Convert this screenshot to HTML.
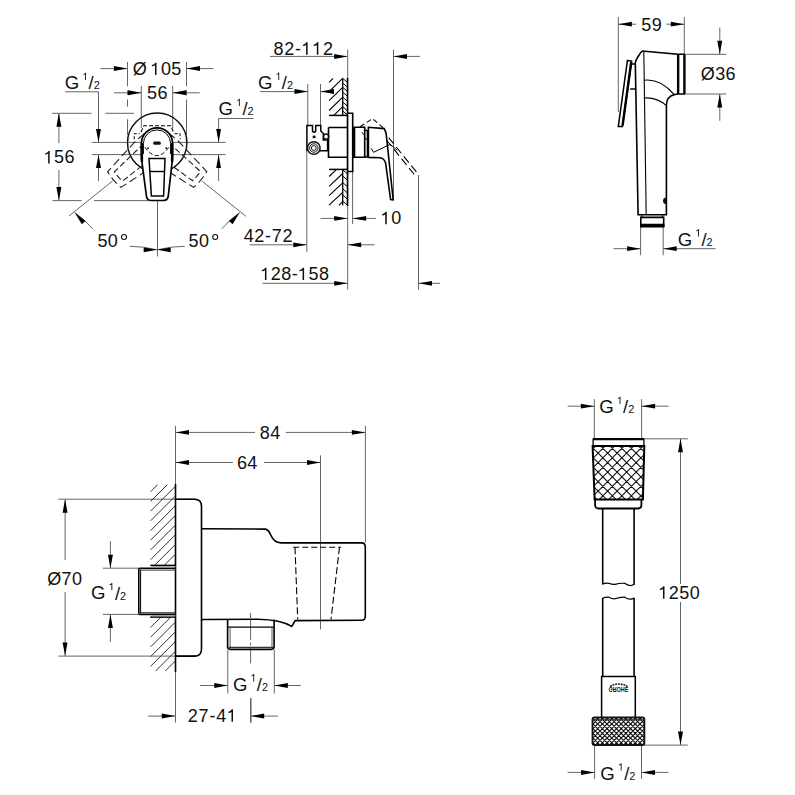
<!DOCTYPE html>
<html><head><meta charset="utf-8"><style>
html,body{margin:0;padding:0;background:#fff;}
svg{display:block;}
text{font-family:"Liberation Sans",sans-serif;fill:#111;}
</style></head><body>
<svg width="795" height="795" viewBox="0 0 795 795">
<rect width="795" height="795" fill="#fff"/>
<line x1="100.4" y1="68.6" x2="127.4" y2="68.6" stroke="#666666" stroke-width="1.0" />
<path d="M127.4,68.6 L113.9,71.0 L113.9,66.1 Z" fill="#000"/>
<line x1="186.5" y1="68.6" x2="213.6" y2="68.6" stroke="#666666" stroke-width="1.0" />
<path d="M186.5,68.6 L200.0,66.1 L200.0,71.0 Z" fill="#000"/>
<text x="132.79" y="75.40" font-size="18">Ø</text>
<path class="g1" d="M156.52,75.10 L156.52,62.72 L155.21,62.72 Q154.72,64.57 151.93,65.11 L151.93,66.28 Q153.91,66.10 154.99,65.29 L154.99,75.10 Z" fill="#111"/>
<text x="160.90 171.31" y="75.10" font-size="18.0">05</text>
<line x1="127.5" y1="62.0" x2="127.5" y2="86.3" stroke="#666666" stroke-width="1.0" />
<line x1="127.5" y1="90.4" x2="127.5" y2="95.0" stroke="#666666" stroke-width="1.0" />
<line x1="127.5" y1="99.5" x2="127.5" y2="106.7" stroke="#666666" stroke-width="1.0" />
<line x1="127.5" y1="119.3" x2="127.5" y2="135.0" stroke="#666666" stroke-width="1.0" />
<line x1="186.5" y1="62.0" x2="186.5" y2="86.3" stroke="#666666" stroke-width="1.0" />
<line x1="186.5" y1="90.0" x2="186.5" y2="95.4" stroke="#666666" stroke-width="1.0" />
<line x1="186.5" y1="99.5" x2="186.5" y2="135.0" stroke="#666666" stroke-width="1.0" />
<line x1="114.0" y1="92.8" x2="141.5" y2="92.8" stroke="#666666" stroke-width="1.0" />
<path d="M141.5,92.8 L128.0,95.2 L128.0,90.3 Z" fill="#000"/>
<line x1="172.7" y1="92.8" x2="199.7" y2="92.8" stroke="#666666" stroke-width="1.0" />
<path d="M172.7,92.8 L186.2,90.3 L186.2,95.2 Z" fill="#000"/>
<text x="147.02 157.44" y="99.30" font-size="18.0">56</text>
<line x1="141.3" y1="86.0" x2="141.3" y2="128.0" stroke="#666666" stroke-width="1.0" />
<line x1="172.7" y1="86.0" x2="172.7" y2="128.0" stroke="#666666" stroke-width="1.0" />
<text x="64.77" y="89.10" font-size="18.6" text-anchor="start" >G</text>
<path class="g1" d="M86.00,80.00 L86.00,72.71 L85.23,72.71 Q84.94,73.80 83.30,74.12 L83.30,74.81 Q84.47,74.70 85.10,74.22 L85.10,80.00 Z" fill="#111"/>
<text x="88.60" y="89.30" font-size="18.5" text-anchor="start" >/</text>
<text x="93.70" y="89.30" font-size="10.9" text-anchor="start" >2</text>
<line x1="65.0" y1="91.8" x2="98.5" y2="91.8" stroke="#666666" stroke-width="1.0" />
<line x1="98.5" y1="91.8" x2="98.5" y2="142.4" stroke="#666666" stroke-width="1.0" />
<path d="M98.5,142.4 L96.0,128.9 L101.0,128.9 Z" fill="#000"/>
<line x1="98.5" y1="154.6" x2="98.5" y2="181.0" stroke="#666666" stroke-width="1.0" />
<path d="M98.5,154.6 L101.0,168.1 L96.0,168.1 Z" fill="#000"/>
<text x="218.57" y="115.10" font-size="18.6" text-anchor="start" >G</text>
<path class="g1" d="M239.80,106.00 L239.80,98.71 L239.03,98.71 Q238.74,99.80 237.10,100.12 L237.10,100.81 Q238.27,100.70 238.90,100.22 L238.90,106.00 Z" fill="#111"/>
<text x="242.40" y="115.30" font-size="18.5" text-anchor="start" >/</text>
<text x="247.50" y="115.30" font-size="10.9" text-anchor="start" >2</text>
<line x1="218.6" y1="118.5" x2="253.5" y2="118.5" stroke="#666666" stroke-width="1.0" />
<line x1="218.6" y1="118.5" x2="218.6" y2="142.4" stroke="#666666" stroke-width="1.0" />
<path d="M218.6,142.4 L216.2,128.9 L221.0,128.9 Z" fill="#000"/>
<line x1="218.6" y1="154.6" x2="218.6" y2="181.0" stroke="#666666" stroke-width="1.0" />
<path d="M218.6,154.6 L221.0,168.1 L216.2,168.1 Z" fill="#000"/>
<line x1="91.8" y1="142.4" x2="225.6" y2="142.4" stroke="#666666" stroke-width="1.0" />
<line x1="91.8" y1="154.6" x2="225.6" y2="154.6" stroke="#666666" stroke-width="1.0" />
<line x1="52.0" y1="113.3" x2="91.6" y2="113.3" stroke="#666666" stroke-width="1.0" />
<line x1="105.4" y1="113.3" x2="134.0" y2="113.3" stroke="#666666" stroke-width="1.0" />
<line x1="58.9" y1="113.3" x2="58.9" y2="143.0" stroke="#666666" stroke-width="1.0" />
<path d="M58.9,113.3 L61.4,126.8 L56.4,126.8 Z" fill="#000"/>
<line x1="58.9" y1="170.0" x2="58.9" y2="200.6" stroke="#666666" stroke-width="1.0" />
<path d="M58.9,200.6 L56.4,187.1 L61.4,187.1 Z" fill="#000"/>
<path class="g1" d="M49.69,163.40 L49.69,151.02 L48.38,151.02 Q47.89,152.87 45.10,153.41 L45.10,154.58 Q47.08,154.40 48.16,153.59 L48.16,163.40 Z" fill="#111"/>
<text x="54.07 64.48" y="163.40" font-size="18.0">56</text>
<line x1="52.5" y1="200.6" x2="81.5" y2="200.6" stroke="#666666" stroke-width="1.0" />
<line x1="94.0" y1="200.6" x2="150.0" y2="200.6" stroke="#666666" stroke-width="1.0" />
<line x1="157.5" y1="200.6" x2="157.5" y2="256.5" stroke="#666666" stroke-width="1.0" />
<line x1="69.0" y1="216.0" x2="112.5" y2="181.0" stroke="#666666" stroke-width="1.0" />
<line x1="201.9" y1="181.0" x2="246.0" y2="216.4" stroke="#666666" stroke-width="1.0" />
<path d="M74.7,212.5 A109.8,109.8 0 0 1 92.8,228.9" stroke="#666666" stroke-width="1.0" fill="none" />
<path d="M129.7,246.3 A109.8,109.8 0 0 1 157.2,249.8" stroke="#666666" stroke-width="1.0" fill="none" />
<path d="M157.2,249.8 A109.8,109.8 0 0 1 184.7,246.3" stroke="#666666" stroke-width="1.0" fill="none" />
<path d="M221.6,228.9 A109.8,109.8 0 0 1 239.7,212.5" stroke="#666666" stroke-width="1.0" fill="none" />
<path d="M74.7,212.5 L85.5,221.0 L81.8,224.2 Z" fill="#000"/>
<path d="M239.7,212.5 L232.6,224.2 L228.9,221.0 Z" fill="#000"/>
<path d="M157.2,249.8 L143.7,252.2 L143.7,247.4 Z" fill="#000"/>
<path d="M157.2,249.8 L170.7,247.4 L170.7,252.2 Z" fill="#000"/>
<text x="97.38 107.79" y="247.10" font-size="18.0">50</text>
<circle cx="124.0" cy="237.0" r="2.5" fill="none" stroke="#111" stroke-width="1.1"/>
<text x="188.48 198.89" y="247.10" font-size="18.0">50</text>
<circle cx="215.2" cy="237.0" r="2.5" fill="none" stroke="#111" stroke-width="1.1"/>
<circle cx="157.2" cy="142.7" r="29.7" fill="none" stroke="#111" stroke-width="1.5"/>
<g transform="rotate(50 157.2 143.5)" fill="none" stroke="#222" stroke-width="1.1" stroke-dasharray="8,4"><path d="M141.4,147 L141.4,158 L146.9,199.5 A57,57 0 0 0 167.5,199.5 L172.6,158 L172.6,147"/><path d="M149,158.6 L165,158.6 L163.6,194.5 A52,52 0 0 1 151.4,194.5 Z" stroke-dasharray="6,3"/></g>
<g transform="rotate(-50 157.2 143.5)" fill="none" stroke="#222" stroke-width="1.1" stroke-dasharray="8,4"><path d="M141.4,147 L141.4,158 L146.9,199.5 A57,57 0 0 0 167.5,199.5 L172.6,158 L172.6,147"/><path d="M149,158.6 L165,158.6 L163.6,194.5 A52,52 0 0 1 151.4,194.5 Z" stroke-dasharray="6,3"/></g>
<path d="M134.2,139.2 L134.2,133.7 L139.7,133.7 M174.6,133.7 L180.1,133.7 L180.1,139.2" stroke="#000" stroke-width="1.0" fill="none" stroke-dasharray="3,2"/>
<path d="M141.0,132 L143.8,125.8 L170.8,125.8 L173.4,132" stroke="#000" stroke-width="1.1" fill="none" stroke-dasharray="4,2"/>
<path d="M141.4,158 L141.4,143.5 A15.6,15.6 0 0 1 172.6,143.5 L172.6,158 L168.2,196.5 Q167.5,200.3 163.5,200.5 L151,200.5 Q147,200.3 146.5,196.5 Z" stroke="#000" stroke-width="1.7" fill="#fff" />
<path d="M143.4,154 L143.4,143.5 A13.6,13.6 0 0 1 170.6,143.5 L170.6,154" stroke="#000" stroke-width="1.0" fill="none" />
<line x1="141.9" y1="143.0" x2="141.9" y2="162.0" stroke="#000" stroke-width="2.4" />
<line x1="172.1" y1="143.0" x2="172.1" y2="162.0" stroke="#000" stroke-width="2.4" />
<path d="M149,158.6 L165,158.6 L163.6,196 L151.4,196 Z" stroke="#000" stroke-width="1.5" fill="none" />
<line x1="150.0" y1="171.5" x2="164.5" y2="171.5" stroke="#000" stroke-width="1.4" />
<rect x="153.2" y="141.6" width="7.6" height="3.2" rx="1.4" fill="#111"/>
<circle cx="148" cy="148.2" r="0.9" fill="#111"/><circle cx="166.3" cy="148.2" r="0.9" fill="#111"/>
<path d="M144.9,147.2 Q157,164 168.8,147.2" stroke="#000" stroke-width="1.0" fill="none" stroke-dasharray="4,2.5"/>
<path class="g1" d="M307.63,54.70 L307.63,42.32 L306.32,42.32 Q305.83,44.17 303.04,44.71 L303.04,45.88 Q305.02,45.70 306.10,44.89 L306.10,54.70 Z" fill="#111"/>
<path class="g1" d="M318.34,54.70 L318.34,42.32 L317.03,42.32 Q316.54,44.17 313.75,44.71 L313.75,45.88 Q315.73,45.70 316.81,44.89 L316.81,54.70 Z" fill="#111"/>
<text x="273.49 284.20 294.91 323.02" y="54.70" font-size="18.0">82-2</text>
<line x1="270.0" y1="56.4" x2="347.7" y2="56.4" stroke="#666666" stroke-width="1.0" />
<path d="M347.7,56.4 L334.2,58.9 L334.2,53.9 Z" fill="#000"/>
<line x1="347.7" y1="49.6" x2="347.7" y2="289.6" stroke="#666666" stroke-width="1.0" />
<line x1="393.5" y1="49.6" x2="393.5" y2="199.0" stroke="#666666" stroke-width="1.0" />
<line x1="393.5" y1="56.4" x2="420.0" y2="56.4" stroke="#666666" stroke-width="1.0" />
<path d="M393.5,56.4 L407.0,53.9 L407.0,58.9 Z" fill="#000"/>
<text x="257.97" y="89.00" font-size="18.6" text-anchor="start" >G</text>
<path class="g1" d="M279.20,79.90 L279.20,72.61 L278.43,72.61 Q278.14,73.70 276.50,74.02 L276.50,74.71 Q277.67,74.60 278.30,74.12 L278.30,79.90 Z" fill="#111"/>
<text x="281.80" y="89.20" font-size="18.5" text-anchor="start" >/</text>
<text x="286.90" y="89.20" font-size="10.9" text-anchor="start" >2</text>
<line x1="260.0" y1="91.6" x2="308.0" y2="91.6" stroke="#666666" stroke-width="1.0" />
<path d="M308.0,91.6 L294.5,94.0 L294.5,89.1 Z" fill="#000"/>
<line x1="307.8" y1="84.0" x2="307.8" y2="125.5" stroke="#666666" stroke-width="1.0" />
<line x1="320.5" y1="84.0" x2="320.5" y2="125.5" stroke="#666666" stroke-width="1.0" />
<line x1="320.5" y1="91.6" x2="333.0" y2="91.6" stroke="#666666" stroke-width="1.0" />
<path d="M320.5,91.6 L334.0,89.1 L334.0,94.0 Z" fill="#000"/>
<line x1="352.6" y1="171.0" x2="352.6" y2="224.0" stroke="#666666" stroke-width="1.0" />
<line x1="320.5" y1="218.4" x2="347.7" y2="218.4" stroke="#666666" stroke-width="1.0" />
<path d="M347.7,218.4 L334.2,220.8 L334.2,216.0 Z" fill="#000"/>
<line x1="352.6" y1="218.4" x2="375.8" y2="218.4" stroke="#666666" stroke-width="1.0" />
<path d="M352.6,218.4 L366.1,216.0 L366.1,220.8 Z" fill="#000"/>
<path class="g1" d="M386.75,224.20 L386.75,211.82 L385.44,211.82 Q384.95,213.67 382.16,214.21 L382.16,215.38 Q384.14,215.20 385.22,214.39 L385.22,224.20 Z" fill="#111"/>
<text x="391.13" y="224.20" font-size="18.0">0</text>
<text x="243.63 254.34 265.05 271.74 282.45" y="242.10" font-size="18.0">42-72</text>
<line x1="249.6" y1="244.8" x2="306.8" y2="244.8" stroke="#666666" stroke-width="1.0" />
<path d="M306.8,244.8 L293.3,247.2 L293.3,242.4 Z" fill="#000"/>
<line x1="306.8" y1="151.0" x2="306.8" y2="251.8" stroke="#666666" stroke-width="1.0" />
<line x1="347.7" y1="244.8" x2="374.6" y2="244.8" stroke="#666666" stroke-width="1.0" />
<path d="M347.7,244.8 L361.2,242.4 L361.2,247.2 Z" fill="#000"/>
<path class="g1" d="M266.47,280.10 L266.47,267.72 L265.16,267.72 Q264.67,269.57 261.88,270.11 L261.88,271.28 Q263.86,271.10 264.94,270.29 L264.94,280.10 Z" fill="#111"/>
<path class="g1" d="M304.10,280.10 L304.10,267.72 L302.78,267.72 Q302.30,269.57 299.51,270.11 L299.51,271.28 Q301.49,271.10 302.57,270.29 L302.57,280.10 Z" fill="#111"/>
<text x="270.85 281.26 291.67 308.48 318.89" y="280.10" font-size="18.0">28-58</text>
<line x1="262.6" y1="283.3" x2="347.7" y2="283.3" stroke="#666666" stroke-width="1.0" />
<path d="M347.7,283.3 L334.2,285.8 L334.2,280.9 Z" fill="#000"/>
<line x1="418.5" y1="175.0" x2="418.5" y2="289.6" stroke="#666666" stroke-width="1.0" />
<line x1="418.5" y1="283.3" x2="440.0" y2="283.3" stroke="#666666" stroke-width="1.0" />
<path d="M418.5,283.3 L432.0,280.9 L432.0,285.8 Z" fill="#000"/>
<line x1="329.1" y1="82.3" x2="333.1" y2="78.4" stroke="#000" stroke-width="1.1" />
<line x1="329.1" y1="91.6" x2="342.6" y2="78.4" stroke="#000" stroke-width="1.1" />
<line x1="329.1" y1="100.6" x2="342.7" y2="87.3" stroke="#000" stroke-width="1.1" />
<line x1="329.1" y1="110.5" x2="342.7" y2="97.2" stroke="#000" stroke-width="1.1" />
<line x1="333.8" y1="115.4" x2="342.7" y2="106.7" stroke="#000" stroke-width="1.1" />
<line x1="342.7" y1="78.4" x2="342.7" y2="115.4" stroke="#000" stroke-width="1.3" />
<line x1="342.7" y1="78.3" x2="347.3" y2="82.3" stroke="#000" stroke-width="1.0" />
<line x1="342.7" y1="83.0" x2="347.3" y2="87.0" stroke="#000" stroke-width="1.0" />
<line x1="342.7" y1="87.3" x2="347.3" y2="91.3" stroke="#000" stroke-width="1.0" />
<line x1="342.7" y1="92.2" x2="347.3" y2="96.2" stroke="#000" stroke-width="1.0" />
<line x1="342.7" y1="97.2" x2="347.3" y2="101.2" stroke="#000" stroke-width="1.0" />
<line x1="342.7" y1="102.0" x2="347.3" y2="106.0" stroke="#000" stroke-width="1.0" />
<line x1="342.7" y1="106.7" x2="347.3" y2="110.7" stroke="#000" stroke-width="1.0" />
<line x1="342.7" y1="111.0" x2="347.3" y2="115.0" stroke="#000" stroke-width="1.0" />
<line x1="329.1" y1="115.4" x2="347.5" y2="115.4" stroke="#000" stroke-width="1.5" />
<line x1="329.1" y1="176.5" x2="336.6" y2="169.4" stroke="#000" stroke-width="1.1" />
<line x1="329.1" y1="186.4" x2="342.7" y2="173.5" stroke="#000" stroke-width="1.1" />
<line x1="329.1" y1="195.7" x2="342.7" y2="182.8" stroke="#000" stroke-width="1.1" />
<line x1="329.1" y1="205.2" x2="342.7" y2="192.3" stroke="#000" stroke-width="1.1" />
<line x1="338.9" y1="205.3" x2="342.7" y2="201.7" stroke="#000" stroke-width="1.1" />
<line x1="342.7" y1="169.4" x2="342.7" y2="205.3" stroke="#000" stroke-width="1.3" />
<line x1="342.7" y1="169.8" x2="347.3" y2="173.8" stroke="#000" stroke-width="1.0" />
<line x1="342.7" y1="176.0" x2="347.3" y2="180.0" stroke="#000" stroke-width="1.0" />
<line x1="342.7" y1="182.6" x2="347.3" y2="186.6" stroke="#000" stroke-width="1.0" />
<line x1="342.7" y1="188.8" x2="347.3" y2="192.8" stroke="#000" stroke-width="1.0" />
<line x1="342.7" y1="195.0" x2="347.3" y2="199.0" stroke="#000" stroke-width="1.0" />
<line x1="342.7" y1="201.0" x2="347.3" y2="205.0" stroke="#000" stroke-width="1.0" />
<line x1="329.1" y1="169.4" x2="347.5" y2="169.4" stroke="#000" stroke-width="1.5" />
<line x1="347.5" y1="78.0" x2="347.5" y2="206.0" stroke="#000" stroke-width="1.6" />
<path d="M347.5,113.3 L352.7,113.3 L352.7,171.5 L347.5,171.5" stroke="#000" stroke-width="1.6" fill="none" />
<path d="M328.5,127.5 L347.4,127.5 M328.5,127.5 L328.5,157.3 L347.4,157.3" stroke="#000" stroke-width="1.6" fill="none" />
<path d="M354.2,127.3 L364.7,127.3 L364.7,157.3 L354.2,157.3 Z" stroke="#000" stroke-width="1.6" fill="none" />
<line x1="354.2" y1="127.3" x2="354.2" y2="157.3" stroke="#000" stroke-width="2.2" />
<path d="M364.7,130.5 L367.4,130.5 L367.4,157 L364.7,157" stroke="#000" stroke-width="1.4" fill="none" />
<path d="M368.4,157.4 L368.4,127.3 L384.2,128.6 Q385.6,131 386.2,134 L393.2,199.8 L390.6,199.5 L385.6,163 Q384,158.2 380.2,157.8 Z" stroke="#000" stroke-width="1.6" fill="none" />
<path d="M306.9,151 L306.9,125.6 L312.5,125.6 L312.5,131 Q314.1,133.5 315.7,131 L315.7,125.6 L320.8,125.6 L320.8,131 L323.3,133.5 L323.3,140 L327.6,140 L327.6,150.8 L320,150.8" stroke="#000" stroke-width="1.5" fill="none" />
<circle cx="313.8" cy="148.0" r="6.3" fill="#fff" stroke="#111" stroke-width="1.5"/>
<circle cx="313.8" cy="148.0" r="4.2" fill="none" stroke="#111" stroke-width="1"/>
<circle cx="313.8" cy="148.0" r="2.4" fill="none" stroke="#111" stroke-width="1"/>
<circle cx="326.2" cy="136.6" r="2.6" fill="none" stroke="#111" stroke-width="1.3"/>
<rect x="312.7" y="135.6" width="2.8" height="2.6" fill="#111"/>
<path d="M360.1,126.7 L372.6,118.6 L384.2,128.7" stroke="#000" stroke-width="1.1" fill="none" stroke-dasharray="5,3"/>
<path d="M388.7,137.7 L418.4,174.4 M386.5,140 L415.5,176" stroke="#000" stroke-width="1.1" fill="none" stroke-dasharray="8,4"/>
<path d="M371.1,148.3 L373.6,152.3 L390.2,144.3 L397.3,150.3" stroke="#000" stroke-width="1.0" fill="none" />
<path d="M362,132.2 L368.6,143.3" stroke="#000" stroke-width="1.0" fill="none" stroke-dasharray="3,3"/>
<line x1="618.3" y1="17.0" x2="618.3" y2="112.0" stroke="#666666" stroke-width="1.0" />
<line x1="684.3" y1="17.0" x2="684.3" y2="54.7" stroke="#666666" stroke-width="1.0" />
<line x1="618.3" y1="24.2" x2="636.2" y2="24.2" stroke="#666666" stroke-width="1.0" />
<path d="M618.3,24.2 L631.8,21.8 L631.8,26.6 Z" fill="#000"/>
<line x1="666.4" y1="24.2" x2="684.3" y2="24.2" stroke="#666666" stroke-width="1.0" />
<path d="M684.3,24.2 L670.8,26.6 L670.8,21.8 Z" fill="#000"/>
<text x="641.26 651.67" y="30.70" font-size="18.0">59</text>
<line x1="684.3" y1="54.3" x2="726.2" y2="54.3" stroke="#666666" stroke-width="1.0" />
<line x1="684.3" y1="94.0" x2="726.2" y2="94.0" stroke="#666666" stroke-width="1.0" />
<line x1="719.8" y1="27.4" x2="719.8" y2="54.3" stroke="#666666" stroke-width="1.0" />
<path d="M719.8,54.3 L717.3,40.8 L722.2,40.8 Z" fill="#000"/>
<line x1="719.8" y1="94.0" x2="719.8" y2="120.8" stroke="#666666" stroke-width="1.0" />
<path d="M719.8,94.0 L722.2,107.5 L717.3,107.5 Z" fill="#000"/>
<text x="700.77 715.17 725.58" y="80.40" font-size="18.0">Ø36</text>
<line x1="640.6" y1="227.0" x2="640.6" y2="255.3" stroke="#666666" stroke-width="1.0" />
<line x1="663.2" y1="227.0" x2="663.2" y2="255.3" stroke="#666666" stroke-width="1.0" />
<line x1="613.6" y1="248.7" x2="640.6" y2="248.7" stroke="#666666" stroke-width="1.0" />
<path d="M640.6,248.7 L627.1,251.1 L627.1,246.2 Z" fill="#000"/>
<line x1="663.2" y1="248.7" x2="715.5" y2="248.7" stroke="#666666" stroke-width="1.0" />
<path d="M663.2,248.7 L676.7,246.2 L676.7,251.1 Z" fill="#000"/>
<text x="677.67" y="245.50" font-size="18.6" text-anchor="start" >G</text>
<path class="g1" d="M698.90,236.40 L698.90,229.11 L698.13,229.11 Q697.84,230.20 696.20,230.52 L696.20,231.21 Q697.37,231.10 698.00,230.62 L698.00,236.40 Z" fill="#111"/>
<text x="701.50" y="245.70" font-size="18.5" text-anchor="start" >/</text>
<text x="706.60" y="245.70" font-size="10.9" text-anchor="start" >2</text>
<path d="M641.9,50.9 L677.7,54.2 L677.7,94 L684.3,94 L684.3,54.2 L677.7,54.2" stroke="#000" stroke-width="1.5" fill="none" />
<line x1="678.4" y1="54.5" x2="678.4" y2="93.5" stroke="#000" stroke-width="1.9" />
<line x1="684.5" y1="54.5" x2="684.5" y2="93.5" stroke="#000" stroke-width="2.2" />
<path d="M642.3,51.2 Q641.2,51.5 637.5,57.5 Q635.6,60.5 635.3,63 L638.1,214.7 L666.4,214.7 L666.4,105.7 Q666.5,96 675,94.5 L677.7,94" stroke="#000" stroke-width="1.6" fill="none" />
<line x1="643.8" y1="51.0" x2="646.2" y2="214.7" stroke="#000" stroke-width="1.1" />
<path d="M643.8,80.2 Q660,78 674,94.3" stroke="#000" stroke-width="1.1" fill="none" />
<path d="M643.8,98 Q657,97 666.4,105.7" stroke="#000" stroke-width="1.1" fill="none" />
<path d="M627.4,60.6 L631.6,61.1 L622.4,126.6 L618.3,126.6 Z" stroke="#000" stroke-width="1.5" fill="none" />
<line x1="631.2" y1="62.0" x2="622.6" y2="125.5" stroke="#000" stroke-width="2.4" />
<path d="M631.6,63.9 L635.4,63.9 M630.2,89.0 L635.6,89.0" stroke="#000" stroke-width="1.5" fill="none" />
<path d="M641.9,215.2 L641.9,217.2 M662.5,215.2 L662.5,217.2" stroke="#000" stroke-width="1.2" fill="none" />
<path d="M640.8,227.2 L640.8,217.4 L663.7,217.4 L663.7,227.2" stroke="#000" stroke-width="1.6" fill="none" />
<rect x="640.0" y="223.8" width="24.5" height="3.6" rx="1" fill="#000"/>
<path d="M666.4,197.4 A3.4,3.4 0 0 0 666.4,204.2 Z" fill="#111"/>
<line x1="175.5" y1="425.8" x2="175.5" y2="722.5" stroke="#666666" stroke-width="1.0" />
<line x1="365.4" y1="425.8" x2="365.4" y2="542.6" stroke="#666666" stroke-width="1.0" />
<line x1="175.5" y1="432.4" x2="255.0" y2="432.4" stroke="#666666" stroke-width="1.0" />
<path d="M175.5,432.4 L189.0,429.9 L189.0,434.8 Z" fill="#000"/>
<line x1="285.8" y1="432.4" x2="365.4" y2="432.4" stroke="#666666" stroke-width="1.0" />
<path d="M365.4,432.4 L351.9,434.8 L351.9,429.9 Z" fill="#000"/>
<text x="259.86 270.27" y="438.90" font-size="18.0">84</text>
<line x1="175.5" y1="462.5" x2="232.8" y2="462.5" stroke="#666666" stroke-width="1.0" />
<path d="M175.5,462.5 L189.0,460.1 L189.0,464.9 Z" fill="#000"/>
<line x1="263.8" y1="462.5" x2="320.5" y2="462.5" stroke="#666666" stroke-width="1.0" />
<path d="M320.5,462.5 L307.0,464.9 L307.0,460.1 Z" fill="#000"/>
<text x="236.95 247.36" y="468.50" font-size="18.0">64</text>
<line x1="320.5" y1="455.4" x2="320.5" y2="629.4" stroke="#666666" stroke-width="1.0" />
<line x1="65.1" y1="499.2" x2="65.1" y2="560.0" stroke="#666666" stroke-width="1.0" />
<line x1="65.1" y1="592.0" x2="65.1" y2="656.1" stroke="#666666" stroke-width="1.0" />
<path d="M65.1,499.2 L67.5,512.7 L62.6,512.7 Z" fill="#000"/>
<path d="M65.1,656.1 L62.6,642.6 L67.5,642.6 Z" fill="#000"/>
<line x1="58.3" y1="499.2" x2="196.0" y2="499.2" stroke="#666666" stroke-width="1.0" />
<line x1="58.3" y1="656.1" x2="196.0" y2="656.1" stroke="#666666" stroke-width="1.0" />
<text x="47.13 61.53 71.94" y="584.50" font-size="18.0">Ø70</text>
<line x1="102.9" y1="568.2" x2="138.8" y2="568.2" stroke="#666666" stroke-width="1.0" />
<line x1="102.9" y1="614.4" x2="138.8" y2="614.4" stroke="#666666" stroke-width="1.0" />
<line x1="110.4" y1="541.1" x2="110.4" y2="568.2" stroke="#666666" stroke-width="1.0" />
<path d="M110.4,568.2 L108.0,554.7 L112.9,554.7 Z" fill="#000"/>
<line x1="110.4" y1="614.4" x2="110.4" y2="641.9" stroke="#666666" stroke-width="1.0" />
<path d="M110.4,614.4 L112.9,627.9 L108.0,627.9 Z" fill="#000"/>
<text x="91.07" y="599.30" font-size="18.6" text-anchor="start" >G</text>
<path class="g1" d="M112.30,590.20 L112.30,582.91 L111.53,582.91 Q111.24,584.00 109.60,584.32 L109.60,585.01 Q110.77,584.90 111.40,584.42 L111.40,590.20 Z" fill="#111"/>
<text x="114.90" y="599.50" font-size="18.5" text-anchor="start" >/</text>
<text x="120.00" y="599.50" font-size="10.9" text-anchor="start" >2</text>
<line x1="227.8" y1="649.6" x2="227.8" y2="693.6" stroke="#666666" stroke-width="1.0" />
<line x1="274.3" y1="649.6" x2="274.3" y2="693.6" stroke="#666666" stroke-width="1.0" />
<line x1="200.0" y1="685.5" x2="227.8" y2="685.5" stroke="#666666" stroke-width="1.0" />
<path d="M227.8,685.5 L214.3,688.0 L214.3,683.0 Z" fill="#000"/>
<line x1="274.3" y1="685.5" x2="300.8" y2="685.5" stroke="#666666" stroke-width="1.0" />
<path d="M274.3,685.5 L287.8,683.0 L287.8,688.0 Z" fill="#000"/>
<text x="232.97" y="690.50" font-size="18.6" text-anchor="start" >G</text>
<path class="g1" d="M254.20,681.40 L254.20,674.11 L253.43,674.11 Q253.14,675.20 251.50,675.52 L251.50,676.21 Q252.67,676.10 253.30,675.62 L253.30,681.40 Z" fill="#111"/>
<text x="256.80" y="690.70" font-size="18.5" text-anchor="start" >/</text>
<text x="261.90" y="690.70" font-size="10.9" text-anchor="start" >2</text>
<line x1="148.1" y1="716.1" x2="175.3" y2="716.1" stroke="#666666" stroke-width="1.0" />
<path d="M175.3,716.1 L161.8,718.6 L161.8,713.6 Z" fill="#000"/>
<line x1="250.7" y1="716.1" x2="277.9" y2="716.1" stroke="#666666" stroke-width="1.0" />
<path d="M250.7,716.1 L264.2,713.6 L264.2,718.6 Z" fill="#000"/>
<path class="g1" d="M233.02,721.70 L233.02,709.32 L231.71,709.32 Q231.22,711.17 228.43,711.71 L228.43,712.88 Q230.41,712.70 231.49,711.89 L231.49,721.70 Z" fill="#111"/>
<text x="187.77 198.58 209.39 216.18" y="721.70" font-size="18.0">27-4</text>
<line x1="250.6" y1="613.0" x2="250.6" y2="618.0" stroke="#666666" stroke-width="1.0" />
<line x1="250.7" y1="698.4" x2="250.7" y2="722.5" stroke="#666666" stroke-width="1.0" />
<line x1="250.6" y1="620.0" x2="250.6" y2="640.0" stroke="#666666" stroke-width="1.0" />
<line x1="250.7" y1="698.4" x2="250.7" y2="722.5" stroke="#666666" stroke-width="1.0" />
<line x1="250.6" y1="642.5" x2="250.6" y2="645.5" stroke="#666666" stroke-width="1.0" />
<line x1="250.7" y1="698.4" x2="250.7" y2="722.5" stroke="#666666" stroke-width="1.0" />
<line x1="250.6" y1="648.0" x2="250.6" y2="663.4" stroke="#666666" stroke-width="1.0" />
<line x1="250.7" y1="698.4" x2="250.7" y2="722.5" stroke="#666666" stroke-width="1.0" />
<line x1="150.6" y1="491.7" x2="157.6" y2="484.7" stroke="#333" stroke-width="1.0" />
<line x1="150.6" y1="501.4" x2="167.3" y2="484.7" stroke="#333" stroke-width="1.0" />
<line x1="150.6" y1="511.1" x2="175.2" y2="486.5" stroke="#333" stroke-width="1.0" />
<line x1="150.6" y1="520.8" x2="175.2" y2="496.2" stroke="#333" stroke-width="1.0" />
<line x1="150.6" y1="530.5" x2="175.2" y2="505.9" stroke="#333" stroke-width="1.0" />
<line x1="150.6" y1="540.2" x2="175.2" y2="515.6" stroke="#333" stroke-width="1.0" />
<line x1="150.6" y1="549.9" x2="175.2" y2="525.3" stroke="#333" stroke-width="1.0" />
<line x1="150.6" y1="559.6" x2="175.2" y2="535.0" stroke="#333" stroke-width="1.0" />
<line x1="154.5" y1="565.4" x2="175.2" y2="544.7" stroke="#333" stroke-width="1.0" />
<line x1="164.2" y1="565.4" x2="175.2" y2="554.4" stroke="#333" stroke-width="1.0" />
<line x1="173.9" y1="565.4" x2="175.2" y2="564.1" stroke="#333" stroke-width="1.0" />
<line x1="150.6" y1="617.8" x2="151.3" y2="617.1" stroke="#333" stroke-width="1.0" />
<line x1="150.6" y1="627.5" x2="161.0" y2="617.1" stroke="#333" stroke-width="1.0" />
<line x1="150.6" y1="637.2" x2="170.7" y2="617.1" stroke="#333" stroke-width="1.0" />
<line x1="150.6" y1="646.9" x2="175.2" y2="622.3" stroke="#333" stroke-width="1.0" />
<line x1="150.6" y1="656.6" x2="175.2" y2="632.0" stroke="#333" stroke-width="1.0" />
<line x1="150.6" y1="666.3" x2="175.2" y2="641.7" stroke="#333" stroke-width="1.0" />
<line x1="155.6" y1="671.0" x2="175.2" y2="651.4" stroke="#333" stroke-width="1.0" />
<line x1="165.3" y1="671.0" x2="175.2" y2="661.1" stroke="#333" stroke-width="1.0" />
<line x1="175.5" y1="484.0" x2="175.5" y2="672.0" stroke="#000" stroke-width="1.6" />
<path d="M175.5,499.2 L194.5,499.2 Q201.5,499.2 201.5,506.2 L201.5,649 Q201.5,656.1 194.5,656.1 L175.5,656.1" stroke="#000" stroke-width="1.6" fill="none" />
<path d="M201.5,528.8 L265.1,529.1 Q268.5,529.3 271,535.5 Q274,542.6 281,542.9 L361.5,542.9 Q365.3,543 365.3,547 L365.3,616.2 Q365.3,620.2 361.5,620.2 L295.2,620.6 L291.7,626.4 Q281,619.8 258,619.3 L203,619.5 Q201.5,619.8 201.5,621" stroke="#000" stroke-width="1.6" fill="none" />
<path d="M175.5,568.2 L140,568.2 Q138.8,568.2 138.8,569.5 L138.8,613.1 Q138.8,614.4 140,614.4 L175.5,614.4" stroke="#000" stroke-width="1.6" fill="none" />
<line x1="140.6" y1="569.5" x2="140.6" y2="613.2" stroke="#000" stroke-width="1.0" />
<line x1="140.8" y1="570.1" x2="175.5" y2="570.1" stroke="#333" stroke-width="1.0" />
<line x1="140.8" y1="612.7" x2="175.5" y2="612.7" stroke="#333" stroke-width="1.0" />
<line x1="150.3" y1="565.4" x2="175.5" y2="565.4" stroke="#000" stroke-width="1.5" />
<line x1="150.3" y1="617.1" x2="175.5" y2="617.1" stroke="#000" stroke-width="1.5" />
<line x1="152.0" y1="566.8" x2="175.5" y2="566.8" stroke="#999" stroke-width="1.0" />
<line x1="152.0" y1="615.8" x2="175.5" y2="615.8" stroke="#999" stroke-width="1.0" />
<path d="M227.6,619.5 L227.6,647.2 Q228.3,649.4 230.8,649.4 L271,649.4 Q273.4,649.4 274.1,647.2 L274.1,619.6" stroke="#000" stroke-width="1.6" fill="none" />
<line x1="228.0" y1="627.1" x2="274.0" y2="627.1" stroke="#000" stroke-width="1.4" />
<line x1="229.0" y1="647.3" x2="273.0" y2="647.3" stroke="#000" stroke-width="1.0" />
<line x1="230.1" y1="627.5" x2="230.1" y2="647.0" stroke="#444" stroke-width="0.9" />
<line x1="272.0" y1="627.5" x2="272.0" y2="647.0" stroke="#444" stroke-width="0.9" />
<path d="M293.2,547.2 L341,547.2" stroke="#000" stroke-width="1.1" fill="none" stroke-dasharray="6,3"/>
<path d="M295,547.2 L297.7,619.4 M339.5,547.2 L331,619.4" stroke="#000" stroke-width="1.1" fill="none" stroke-dasharray="7,3"/>
<line x1="594.3" y1="399.1" x2="594.3" y2="438.4" stroke="#666666" stroke-width="1.0" />
<line x1="641.6" y1="399.1" x2="641.6" y2="438.4" stroke="#666666" stroke-width="1.0" />
<line x1="567.7" y1="406.2" x2="594.3" y2="406.2" stroke="#666666" stroke-width="1.0" />
<path d="M594.3,406.2 L580.8,408.6 L580.8,403.8 Z" fill="#000"/>
<line x1="641.6" y1="406.2" x2="668.7" y2="406.2" stroke="#666666" stroke-width="1.0" />
<path d="M641.6,406.2 L655.1,403.8 L655.1,408.6 Z" fill="#000"/>
<text x="599.27" y="413.10" font-size="18.6" text-anchor="start" >G</text>
<path class="g1" d="M620.50,404.00 L620.50,396.71 L619.73,396.71 Q619.44,397.80 617.80,398.12 L617.80,398.81 Q618.97,398.70 619.60,398.22 L619.60,404.00 Z" fill="#111"/>
<text x="623.10" y="413.30" font-size="18.5" text-anchor="start" >/</text>
<text x="628.20" y="413.30" font-size="10.9" text-anchor="start" >2</text>
<line x1="643.6" y1="438.8" x2="687.9" y2="438.8" stroke="#666666" stroke-width="1.0" />
<line x1="644.0" y1="745.1" x2="687.8" y2="745.1" stroke="#666666" stroke-width="1.0" />
<line x1="680.5" y1="438.8" x2="680.5" y2="584.0" stroke="#666666" stroke-width="1.0" />
<line x1="680.5" y1="602.0" x2="680.5" y2="745.1" stroke="#666666" stroke-width="1.0" />
<path d="M680.5,438.8 L683.0,452.3 L678.0,452.3 Z" fill="#000"/>
<path d="M680.5,745.1 L678.0,731.6 L683.0,731.6 Z" fill="#000"/>
<path class="g1" d="M664.49,598.70 L664.49,586.32 L663.18,586.32 Q662.69,588.17 659.90,588.71 L659.90,589.88 Q661.88,589.70 662.96,588.89 L662.96,598.70 Z" fill="#111"/>
<text x="668.87 679.28 689.69" y="598.70" font-size="18.0">250</text>
<line x1="594.6" y1="745.1" x2="594.6" y2="778.9" stroke="#666666" stroke-width="1.0" />
<line x1="641.5" y1="745.1" x2="641.5" y2="778.9" stroke="#666666" stroke-width="1.0" />
<line x1="567.6" y1="772.4" x2="594.6" y2="772.4" stroke="#666666" stroke-width="1.0" />
<path d="M594.6,772.4 L581.1,774.9 L581.1,769.9 Z" fill="#000"/>
<line x1="641.5" y1="772.4" x2="668.7" y2="772.4" stroke="#666666" stroke-width="1.0" />
<path d="M641.5,772.4 L655.0,769.9 L655.0,774.9 Z" fill="#000"/>
<text x="600.37" y="779.60" font-size="18.6" text-anchor="start" >G</text>
<path class="g1" d="M621.60,770.50 L621.60,763.21 L620.83,763.21 Q620.54,764.30 618.90,764.62 L618.90,765.31 Q620.07,765.20 620.70,764.72 L620.70,770.50 Z" fill="#111"/>
<text x="624.20" y="779.80" font-size="18.5" text-anchor="start" >/</text>
<text x="629.30" y="779.80" font-size="10.9" text-anchor="start" >2</text>
<path d="M593.1,445.9 L593.1,439.1 L643.9,439.1 L643.9,445.9" stroke="#000" stroke-width="1.3" fill="none" />
<line x1="593.1" y1="439.1" x2="643.9" y2="439.1" stroke="#000" stroke-width="2.2" />
<defs><clipPath id="kn1"><path d="M592.6,446 L644.3,446 L642.9,499.4 L594.6,499.4 Z"/></clipPath><clipPath id="kn2"><rect x="592.2" y="717.1" width="51.9" height="28" rx="2"/></clipPath></defs>
<g clip-path="url(#kn1)"><path d="M476.0,445 L532.0,501 M530.2,445 L474.2,501 M485.5,445 L541.5,501 M539.7,445 L483.7,501 M495.0,445 L551.0,501 M549.2,445 L493.2,501 M504.5,445 L560.5,501 M558.7,445 L502.7,501 M514.0,445 L570.0,501 M568.2,445 L512.2,501 M523.5,445 L579.5,501 M577.7,445 L521.7,501 M533.0,445 L589.0,501 M587.2,445 L531.2,501 M542.5,445 L598.5,501 M596.7,445 L540.7,501 M552.0,445 L608.0,501 M606.2,445 L550.2,501 M561.5,445 L617.5,501 M615.7,445 L559.7,501 M571.0,445 L627.0,501 M625.2,445 L569.2,501 M580.5,445 L636.5,501 M634.7,445 L578.7,501 M590.0,445 L646.0,501 M644.2,445 L588.2,501 M599.5,445 L655.5,501 M653.7,445 L597.7,501 M609.0,445 L665.0,501 M663.2,445 L607.2,501 M618.5,445 L674.5,501 M672.7,445 L616.7,501 M628.0,445 L684.0,501 M682.2,445 L626.2,501 M637.5,445 L693.5,501 M691.7,445 L635.7,501 M647.0,445 L703.0,501 M701.2,445 L645.2,501 M656.5,445 L712.5,501 M710.7,445 L654.7,501 M666.0,445 L722.0,501 M720.2,445 L664.2,501 M675.5,445 L731.5,501 M729.7,445 L673.7,501 M685.0,445 L741.0,501 M739.2,445 L683.2,501 M694.5,445 L750.5,501 M748.7,445 L692.7,501 M704.0,445 L760.0,501 M758.2,445 L702.2,501 M713.5,445 L769.5,501 M767.7,445 L711.7,501" stroke="#111" stroke-width="1.1" fill="none"/></g>
<path d="M592.6,446 L644.3,446 L642.9,499.4 L594.6,499.4 Z" stroke="#000" stroke-width="2.0" fill="none" />
<path d="M595.1,499.4 L595.1,505.5 Q595.5,508.5 598.5,508.5 L638,508.5 Q641.2,508.5 641.4,505.5 L641.4,499.4" stroke="#000" stroke-width="1.8" fill="none" />
<line x1="602.7" y1="508.5" x2="602.7" y2="584.5" stroke="#000" stroke-width="1.6" />
<line x1="634.1" y1="508.5" x2="634.1" y2="584.8" stroke="#000" stroke-width="1.6" />
<path d="M602.7,584 Q605.5,582.6 608.9,583.3 Q612,584.7 614.9,584.4 Q620,583 624.7,583.3 Q628,585.9 631.1,585.5 Q633,585 634.1,584.3" stroke="#000" stroke-width="1.2" fill="none" />
<path d="M602.7,598.3 Q605.5,596.9 608.9,597.2 Q612,598.9 614.9,598.8 Q620,597 624.7,597.2 Q628,599.4 631.1,599.1 Q633,598.6 634.1,598.3" stroke="#000" stroke-width="1.2" fill="none" />
<line x1="602.7" y1="597.8" x2="602.7" y2="676.2" stroke="#000" stroke-width="1.6" />
<line x1="634.1" y1="597.8" x2="634.1" y2="676.2" stroke="#000" stroke-width="1.6" />
<path d="M601.6,717.1 L601.6,676.5 L635.3,676.5 L635.3,717.1" stroke="#000" stroke-width="1.5" fill="none" />
<g clip-path="url(#kn2)"><path d="M538.0,716 L568.0,746 M568.0,716 L538.0,746 M542.7,716 L572.7,746 M572.7,716 L542.7,746 M547.4,716 L577.4,746 M577.4,716 L547.4,746 M552.1,716 L582.1,746 M582.1,716 L552.1,746 M556.8,716 L586.8,746 M586.8,716 L556.8,746 M561.5,716 L591.5,746 M591.5,716 L561.5,746 M566.2,716 L596.2,746 M596.2,716 L566.2,746 M570.9,716 L600.9,746 M600.9,716 L570.9,746 M575.6,716 L605.6,746 M605.6,716 L575.6,746 M580.3,716 L610.3,746 M610.3,716 L580.3,746 M585.0,716 L615.0,746 M615.0,716 L585.0,746 M589.7,716 L619.7,746 M619.7,716 L589.7,746 M594.4,716 L624.4,746 M624.4,716 L594.4,746 M599.1,716 L629.1,746 M629.1,716 L599.1,746 M603.8,716 L633.8,746 M633.8,716 L603.8,746 M608.5,716 L638.5,746 M638.5,716 L608.5,746 M613.2,716 L643.2,746 M643.2,716 L613.2,746 M617.9,716 L647.9,746 M647.9,716 L617.9,746 M622.6,716 L652.6,746 M652.6,716 L622.6,746 M627.3,716 L657.3,746 M657.3,716 L627.3,746 M632.0,716 L662.0,746 M662.0,716 L632.0,746 M636.7,716 L666.7,746 M666.7,716 L636.7,746 M641.4,716 L671.4,746 M671.4,716 L641.4,746 M646.1,716 L676.1,746 M676.1,716 L646.1,746 M650.8,716 L680.8,746 M680.8,716 L650.8,746 M655.5,716 L685.5,746 M685.5,716 L655.5,746" stroke="#111" stroke-width="1.15" fill="none"/></g>
<rect x="592.5" y="717.3" width="51.9" height="27.7" rx="2" fill="none" stroke="#111" stroke-width="1.8"/>
<line x1="593.5" y1="719.6" x2="643.5" y2="719.6" stroke="#333" stroke-width="1.0" />
<path d="M610,686.5 Q618.5,681.5 627.5,686.5" stroke="#222" stroke-width="1.6" fill="none" stroke-dasharray="2,0.8"/>
<text x="0" y="0" font-size="6.4" font-weight="bold" transform="translate(618.4,686.6) scale(1,-1)" text-anchor="middle" textLength="20" lengthAdjust="spacingAndGlyphs">GROHE</text>
</svg></body></html>
